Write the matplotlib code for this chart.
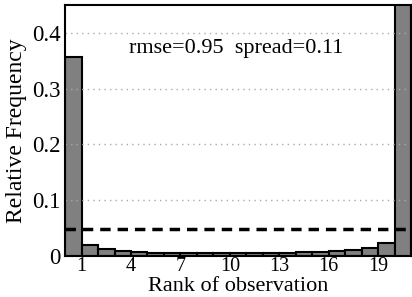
import numpy as np
import matplotlib
matplotlib.use("Agg")
import matplotlib.pyplot as plt
from matplotlib.ticker import FuncFormatter

plt.rcParams['font.family'] = ['Liberation Serif', 'DejaVu Serif']

ranks = np.arange(1, 22)
freq = [0.356, 0.020, 0.013, 0.0095, 0.0075, 0.006, 0.0055, 0.005, 0.005,
        0.005, 0.005, 0.005, 0.0055, 0.006, 0.0065, 0.0075, 0.009, 0.011,
        0.015, 0.024, 0.473]
xtick_labels = [1, 4, 7, 10, 13, 16, 19]
yticks = [0, 0.1, 0.2, 0.3, 0.4]
stats_text = "rmse=0.95  spread=0.11"

fig = plt.figure(figsize=(4.12, 2.97), dpi=100)
ax = fig.add_axes([0.158, 0.138, 0.84, 0.845])

ax.bar(ranks, freq, width=1.0, color="#808080", edgecolor="black",
       linewidth=1.5, zorder=2)
ax.axhline(1.0 / len(ranks), color="black", linestyle=(0, (3, 2)),
           linewidth=2.5, zorder=4)

ax.set_xlim(0.5, 21.5)
ax.set_ylim(0, 0.45)
# tick labels sit at the right edge of each labelled bar
ax.set_xticks([r + 0.5 for r in xtick_labels])
ax.set_xticklabels([str(r) for r in xtick_labels])
ax.set_yticks(yticks)
ax.yaxis.set_major_formatter(FuncFormatter(lambda v, p: "0" if v == 0 else "%g" % v))
ax.tick_params(length=0)
ax.tick_params(axis="y", labelsize=16.5, pad=3)
ax.tick_params(axis="x", labelsize=14.5, pad=0.5)
ax.grid(axis="y", color="#aaaaaa", linestyle=(0, (1, 3)), linewidth=1.0, zorder=3)
ax.set_axisbelow(False)
for s in ax.spines.values():
    s.set_linewidth(1.5)
    s.set_zorder(5)

ax.text(0.494, 0.809, stats_text, transform=ax.transAxes, ha="center",
        va="baseline", fontsize=16)
ax.set_xlabel("Rank of observation", fontsize=16, va="baseline")
ax.xaxis.set_label_coords(0.5, -0.14)
ax.set_ylabel("Relative Frequency", fontsize=17, labelpad=4)

fig.savefig("out.png", dpi=100)
